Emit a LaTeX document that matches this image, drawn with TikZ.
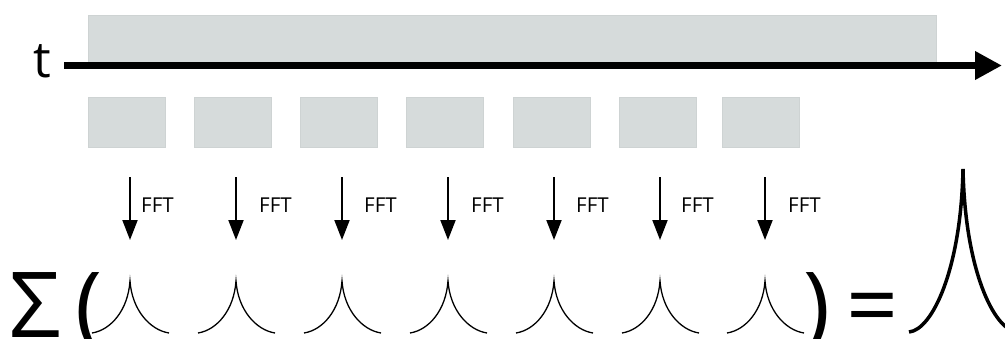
\documentclass[tikz,border=0pt]{standalone}
\usepackage{fontspec}
\setmainfont{Open Sans}
\usetikzlibrary{arrows.meta}
\definecolor{winfill}{HTML}{D6DBDB}
\definecolor{winedge}{HTML}{CED3D3}
\begin{document}
\begin{tikzpicture}[x=1pt,y=-1pt,
  win/.style={fill=winfill, draw=winedge, line width=0.6pt, anchor=north west,
    inner sep=0pt, outer sep=0pt},
  axisarrow/.style={line width=7.6pt, -{Triangle[length=27pt,width=27pt]}},
  fftarrow/.style={line width=2pt, -{Triangle[length=20pt,width=15pt]}},
  fftlabel/.style={font=\fontsize{20.5}{22}\selectfont, anchor=base west, inner sep=0pt},
  peak/.style={line width=1.3pt},
  bigpeak/.style={line width=3.5pt},
  sym/.style={font=\fontsize{91}{91}\selectfont, anchor=base west, inner sep=0pt},
  axislabel/.style={font=\fontsize{50}{50}\selectfont, anchor=base west, inner sep=0pt}]
\useasboundingbox (0,0) rectangle (1005,338);
\clip (0,0) rectangle (1005,338);

% whole signal
\node[win, minimum width=848pt, minimum height=50pt] (signal) at (88,15) {};

% time axis
\node[axislabel] (tlabel) at (33,77) {t};
\coordinate (axstart) at (64,65.5);
\coordinate (axend) at (1002,65.5);
\draw[axisarrow] (axstart) -- (axend);

% windows, transforms and their spectra
\foreach \i/\wx/\ax/\lx in {1/88/130/141, 2/194/236/259, 3/300/342/364,
    4/406/448/471, 5/513/554/576, 6/619/660/681, 7/722/765/788} {
  \node[win, minimum width=77pt, minimum height=50pt] (w\i) at (\wx,97) {};
  \coordinate (as\i) at (\ax,177);
  \coordinate (ae\i) at (\ax,240);
  \draw[fftarrow] (as\i) -- (ae\i);
  \node[fftlabel] (fft\i) at (\lx,212) {FFT};
  \coordinate (l\i) at (\ax-38,333);
  \coordinate (p\i) at (\ax,281);
  \coordinate (r\i) at (\ax+39,333);
  \draw[peak] (l\i) .. controls +(19,-3) and +(-2,29) .. (p\i)
                    .. controls +(2,29) and +(-19,-3) .. (r\i);
}

% sum of spectra
\node[sym] (sigma) at (9,337) {Σ};
\node[sym] (lpar) at (75,337) {(};
\node[sym] (rpar) at (803,337) {)};
\node[sym] (eq) at (846,337) {=};

% resulting spectrum
\coordinate (bl) at (909,332);
\coordinate (bp) at (963,169);
\coordinate (br) at (1017,332);
\draw[bigpeak] (bl) .. controls +(23,-2) and +(-2,101) .. (bp)
                    .. controls +(2,101) and +(-23,-2) .. (br);
\end{tikzpicture}
\end{document}
